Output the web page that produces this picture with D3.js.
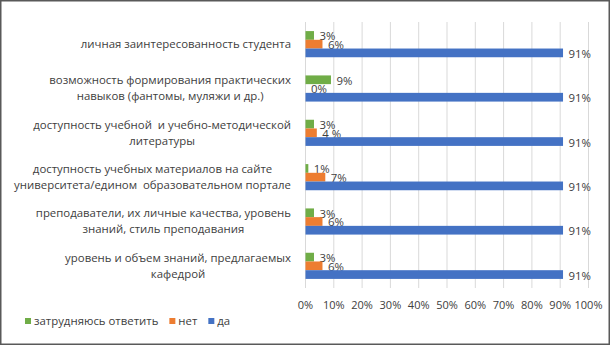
<!DOCTYPE html>
<html>
<head>
<meta charset="utf-8">
<script src="https://cdn.jsdelivr.net/npm/d3@7"></script>
<style>
  body { margin: 0; background: #fff; }
  text { font-family: "Open Sans", "Noto Sans", sans-serif; fill: #404040; white-space: pre; }
</style>
</head>
<body>
<div id="chart"></div>
<script>
// categories, top to bottom, already split into lines
let categories = [
    ["личная заинтересованность студента"],
    ["возможность формирования практических", "навыков (фантомы, муляжи и др.)"],
    ["доступность учебной  и учебно-методической", "литературы"],
    ["доступность учебных материалов на сайте", "университета/едином  образовательном портале"],
    ["преподаватели, их личные качества, уровень", "знаний, стиль преподавания"],
    ["уровень и объем знаний, предлагаемых", "кафедрой"],
];
let series_names = ["затрудняюсь ответить", "нет", "да"];
let unsure = [3, 9, 3, 1, 3, 3];
let no = [6, 0, 4, 7, 6, 6];
let yes = [91, 91, 91, 91, 91, 91];
let no_labels = ["6%", "0%", "4 %", "7%", "6%", "6%"];
let x_ticks = [0, 10, 20, 30, 40, 50, 60, 70, 80, 90, 100];
let colors = ["#70AD47", "#ED7D31", "#4472C4"];

let config_size = {
    svg_width: 611,
    svg_height: 346,
    plot: { left: 305, right: 588, top: 22, bottom: 288 },
};

let svg = d3.select("#chart").append("svg")
    .attr("width", config_size.svg_width).attr("height", config_size.svg_height);

svg.append("rect")
    .attr("x", 0.75).attr("y", 0.75)
    .attr("width", 608.5).attr("height", 343.5)
    .attr("fill", "#fff").attr("stroke", "#595959").attr("stroke-width", 1.5);

let x = d3.scaleLinear()
    .domain([0, 100])
    .range([config_size.plot.left, config_size.plot.right]);

let y = d3.scaleBand()
    .domain(d3.range(categories.length))
    .range([config_size.plot.top, config_size.plot.bottom])
    .paddingInner(0.41).paddingOuter(0.205);

let sub = d3.scaleBand()
    .domain([0, 1, 2])
    .range([0, y.bandwidth()]);

// gridlines + tick labels
let xAxis = d3.axisBottom(x)
    .tickValues(x_ticks)
    .tickFormat(d => d + "%")
    .tickSize(-(config_size.plot.bottom - config_size.plot.top))
    .tickPadding(13);
let gx = svg.append("g")
    .attr("transform", `translate(0,${config_size.plot.bottom})`)
    .call(xAxis);
gx.select(".domain").remove();
gx.selectAll(".tick line").attr("stroke", "#D9D9D9");
gx.selectAll(".tick text")
    .attr("font-size", 11).attr("font-family", "Open Sans").attr("fill", "#404040");

// left axis line
svg.append("line")
    .attr("x1", x(0) + 0.5).attr("x2", x(0) + 0.5)
    .attr("y1", config_size.plot.top).attr("y2", config_size.plot.bottom)
    .attr("stroke", "#D9D9D9");

let series = [unsure, no, yes];
let labels = [
    unsure.map(d => d + "%"),
    no_labels,
    yes.map(d => d + "%"),
];

series.forEach((vals, s) => {
    let g = svg.append("g");
    g.selectAll("rect").data(vals).join("rect")
        .attr("x", x(0) + 0.5)
        .attr("y", (d, i) => y(i) + sub(s))
        .attr("width", d => x(d) - x(0))
        .attr("height", sub.bandwidth())
        .attr("fill", colors[s]);
    g.selectAll("text").data(vals).join("text")
        .attr("x", d => x(d) + 6)
        .attr("y", (d, i) => y(i) + sub(s) + sub.bandwidth() / 2 + 1)
        .attr("dy", "0.35em")
        .attr("font-size", 11.4)
        .text((d, i) => labels[s][i]);
});

// category labels: block right aligned, lines centred inside it
let label_right = 291;
categories.forEach((lines, i) => {
    let g = svg.append("g");
    let texts = lines.map((line, k) => g.append("text")
        .attr("font-size", 11.4)
        .attr("text-anchor", "middle")
        .attr("y", y(i) + y.bandwidth() / 2 + (k - (lines.length - 1) / 2) * 16)
        .attr("dy", "0.35em")
        .text(line));
    let widths = texts.map(t => t.node().getComputedTextLength());
    let w = d3.max(widths);
    texts.forEach(t => t.attr("x", label_right - w / 2));
});

// legend
let legend = svg.append("g").attr("transform", "translate(25,321)");
let lx = 0;
series_names.forEach((name, s) => {
    let item = legend.append("g").attr("transform", `translate(${lx},0)`);
    item.append("rect").attr("x", 0).attr("y", -3).attr("width", 6).attr("height", 6).attr("fill", colors[s]);
    let t = item.append("text").attr("x", 9).attr("dy", "0.35em").attr("font-size", 11.4).text(name);
    lx += 9 + t.node().getComputedTextLength() + 11;
});
</script>
</body>
</html>
